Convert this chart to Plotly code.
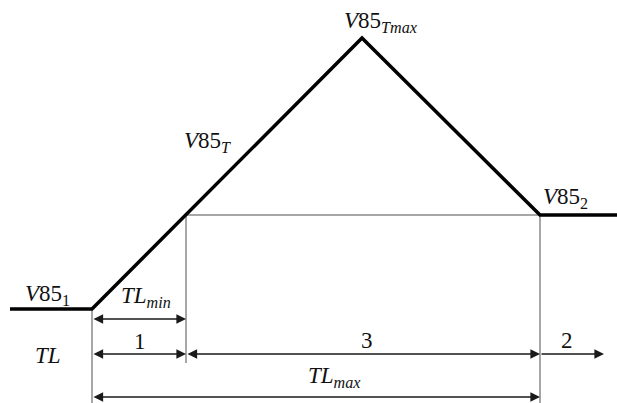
import plotly.graph_objects as go

# speed profile (distance along road, speed), schematic
profile_x = [10, 92, 362, 540, 617]
profile_y = [94, 94, 365, 188, 188]

# key stations along the road
x_start = 92      # start of transition
x_tlmin = 186     # end of TLmin
x_end = 540       # end of TLmax
x_arrow_end = 604
v_t = 188         # speed level reached at end of TLmin

# dimension rows (y level of each row)
row_tlmin = 84
row_parts = 49
row_tlmax = 6

labels = ["<i>V</i>85<sub>1</sub>", "<i>TL<sub>min</sub></i>", "1", "<i>TL</i>", "3", "2",
          "<i>TL<sub>max</sub></i>", "<i>V</i>85<sub><i>T</i></sub>",
          "<i>V</i>85<sub><i>Tmax</i></sub>", "<i>V</i>85<sub>2</sub>"]
label_x = [47, 146, 140, 48, 367, 567, 334, 207, 381, 565]
label_y = [108, 106, 62, 48, 63, 63, 26, 261, 381, 205]

fig = go.Figure()

gray = "#8a8a8a"
# guide box and verticals
fig.add_trace(go.Scatter(x=[x_tlmin, x_end], y=[v_t, v_t], mode="lines",
                         line=dict(color=gray, width=1.5), hoverinfo="skip"))
fig.add_trace(go.Scatter(x=[x_start, x_start], y=[profile_y[1], 0], mode="lines",
                         line=dict(color=gray, width=1.5), hoverinfo="skip"))
fig.add_trace(go.Scatter(x=[x_tlmin, x_tlmin], y=[v_t, 40], mode="lines",
                         line=dict(color=gray, width=1.5), hoverinfo="skip"))
fig.add_trace(go.Scatter(x=[x_end, x_end], y=[v_t, 0], mode="lines",
                         line=dict(color=gray, width=1.5), hoverinfo="skip"))

# speed profile
fig.add_trace(go.Scatter(x=profile_x, y=profile_y, mode="lines",
                         line=dict(color="black", width=3.5), hoverinfo="skip"))

# dimension arrows
arrows = [
    (x_start, x_tlmin, row_tlmin, "end+start"),
    (x_start, x_tlmin, row_parts, "end+start"),
    (x_tlmin, x_end, row_parts, "end+start"),
    (x_end, x_arrow_end, row_parts, "end"),
    (x_start, x_end, row_tlmax, "end+start"),
]
for x0, x1, y, side in arrows:
    fig.add_annotation(x=x1, y=y, ax=x0, ay=y, xref="x", yref="y", axref="x", ayref="y",
                       text="", showarrow=True, arrowhead=2, arrowsize=1.2, arrowwidth=1.6,
                       arrowcolor="#1a1a1a", arrowside=side, startarrowhead=2,
                       startarrowsize=1.2)

serif = "Liberation Serif, DejaVu Serif, serif"
for t, x, y in zip(labels, label_x, label_y):
    fig.add_annotation(x=x, y=y, text=t, showarrow=False, xanchor="center", yanchor="middle",
                       font=dict(family=serif, size=23, color="#111111"))

fig.update_layout(
    width=617, height=403,
    margin=dict(l=0, r=0, t=0, b=0),
    paper_bgcolor="white", plot_bgcolor="white",
    showlegend=False,
    font=dict(family=serif),
    xaxis=dict(range=[0, 617], visible=False, fixedrange=True),
    yaxis=dict(range=[0, 403], visible=False, fixedrange=True),
)

fig.write_html("out.html", config={"displayModeBar": False},
               post_script="document.body.style.margin='0';document.body.style.overflow='hidden';")
